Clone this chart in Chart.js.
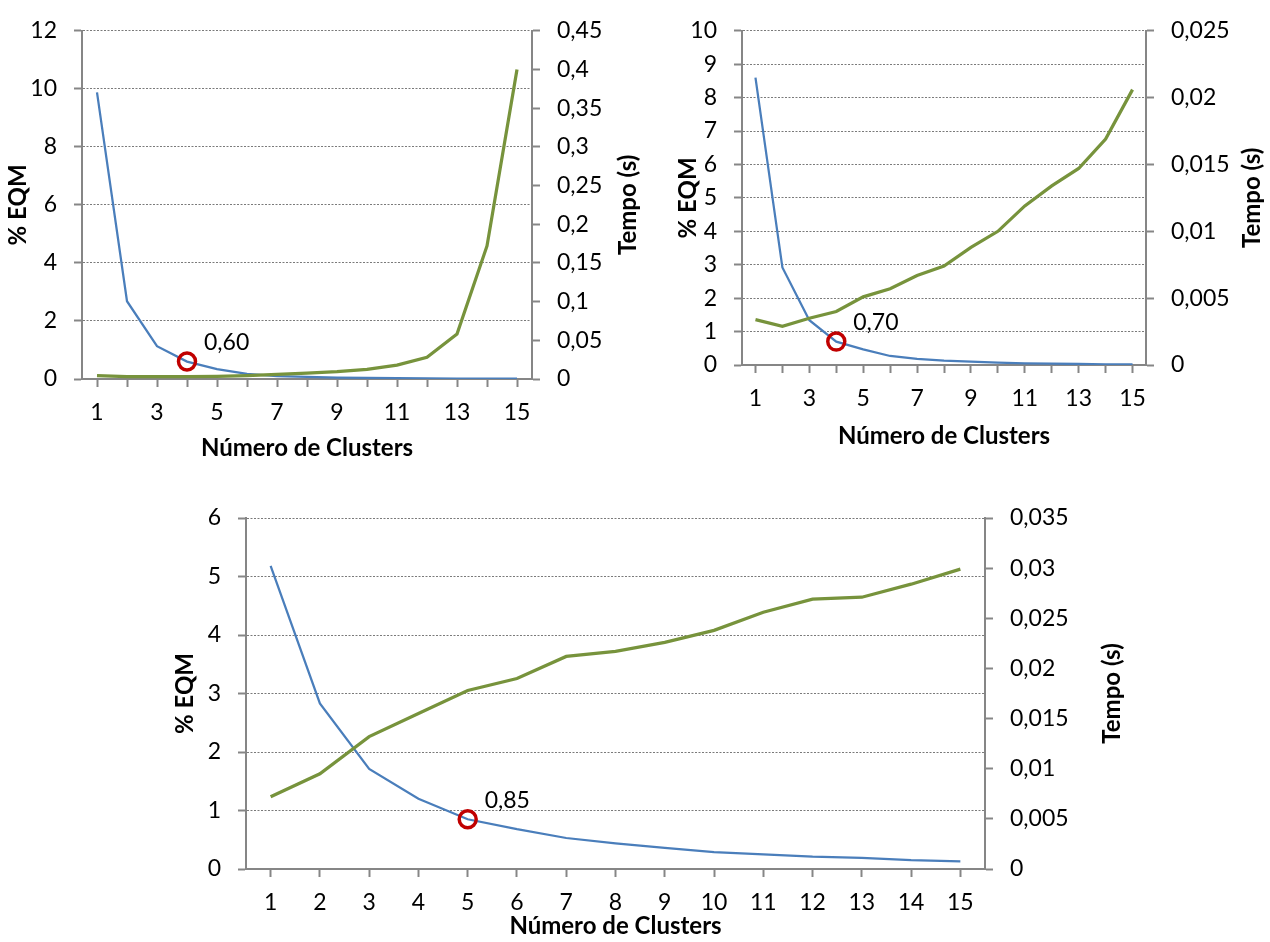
<!DOCTYPE html>
<html>
<head>
<meta charset="utf-8">
<script src="https://cdn.jsdelivr.net/npm/chart.js@4.4.1/dist/chart.umd.min.js"></script>
<style>
  body { margin: 0; background: #fff; width: 1270px; height: 942px; position: relative; overflow: hidden; }
  .box { position: absolute; }
</style>
</head>
<body>
<div class="box" style="left:0;top:0;width:640px;height:463px"><canvas id="chart1"></canvas></div>
<div class="box" style="left:640px;top:0;width:630px;height:451px"><canvas id="chart2"></canvas></div>
<div class="box" style="left:150px;top:470px;width:1000px;height:471px"><canvas id="chart3"></canvas></div>
<script>
// cluster counts on the x axis
const clusters = ['1', '2', '3', '4', '5', '6', '7', '8', '9', '10', '11', '12', '13', '14', '15'];

// first run
const eqm1 = [9.88, 2.68, 1.13, 0.60, 0.34, 0.18, 0.10, 0.07, 0.05, 0.04, 0.03, 0.02, 0.015, 0.01, 0.01];
const tempo1 = [0.0045, 0.003, 0.003, 0.003, 0.0035, 0.0045, 0.006, 0.0075, 0.0095, 0.0125, 0.018, 0.028, 0.058, 0.172, 0.40];
const mark1 = 3;

// second run
const eqm2 = [8.6, 2.92, 1.34, 0.70, 0.47, 0.27, 0.18, 0.13, 0.10, 0.07, 0.05, 0.04, 0.03, 0.02, 0.02];
const tempo2 = [0.0034, 0.0029, 0.0035, 0.0040, 0.0051, 0.0057, 0.0067, 0.0074, 0.0088, 0.0100, 0.0119, 0.0134, 0.0147, 0.0169, 0.0206];
const mark2 = 3;

// third run
const eqm3 = [5.18, 2.83, 1.71, 1.2, 0.85, 0.68, 0.53, 0.44, 0.36, 0.29, 0.25, 0.21, 0.19, 0.15, 0.13];
const tempo3 = [0.0072, 0.0095, 0.0132, 0.0155, 0.0178, 0.0190, 0.0212, 0.0217, 0.0226, 0.0238, 0.0256, 0.0269, 0.0271, 0.0284, 0.0299];
const mark3 = 4;

const BLUE = '#4A7EBB';
const GREEN = '#77933C';
const RED = '#C00000';
const AXIS = '#868686';
const FONT = 'Lato, "Open Sans", sans-serif';

Chart.defaults.font.family = FONT;
Chart.defaults.color = '#000';

const comma = v => String(Math.round(v * 10000) / 10000).replace('.', ',');

// value label next to the red circle, plus the two rotated y titles
const extras = {
    id: 'extras',
    afterDatasetsDraw(chart, args, o) {
        const ctx = chart.ctx;
        const pt = chart.getDatasetMeta(0).data[o.mark];
        const y = chart.scales.y;
        const midY = (y.top + y.bottom) / 2;
        ctx.save();
        ctx.fillStyle = '#000';
        ctx.textBaseline = 'middle';
        ctx.font = '23px ' + FONT;
        ctx.fillText(o.label, pt.x + 17, pt.y - 19);

        ctx.font = 'bold 24px ' + FONT;
        ctx.textAlign = 'center';
        ctx.save();
        ctx.translate(o.leftX, midY);
        ctx.rotate(-Math.PI / 2);
        ctx.fillText('% EQM', 0, 0);
        ctx.restore();
        ctx.translate(o.rightX, midY);
        ctx.rotate(-Math.PI / 2);
        ctx.fillText('Tempo (s)', 0, 0);
        ctx.restore();
    }
};

function buildChart(id, eqm, tempo, markIdx, s) {
    const markData = eqm.map((v, i) => i === markIdx ? v : null);
    return new Chart(document.getElementById(id), {
        type: 'line',
        data: {
            labels: clusters,
            datasets: [
                {
                    label: 'marca',
                    data: markData,
                    yAxisID: 'y',
                    showLine: false,
                    pointRadius: 8.5,
                    pointBorderWidth: 3.5,
                    pointBorderColor: RED,
                    pointBackgroundColor: 'rgba(0,0,0,0)',
                    order: 0
                },
                {
                    label: '% EQM',
                    data: eqm,
                    yAxisID: 'y',
                    borderColor: BLUE,
                    borderWidth: 2.25,
                    pointRadius: 0,
                    tension: 0,
                    order: 2
                },
                {
                    label: 'Tempo (s)',
                    data: tempo,
                    yAxisID: 'y1',
                    borderColor: GREEN,
                    borderWidth: 3.25,
                    pointRadius: 0,
                    tension: 0,
                    order: 1
                }
            ]
        },
        options: {
            responsive: true,
            maintainAspectRatio: false,
            animation: false,
            events: [],
            layout: { padding: { top: s.padTop, left: 0, right: 0, bottom: 0 } },
            plugins: {
                legend: { display: false },
                tooltip: { enabled: false },
                extras: { mark: markIdx, label: eqm[markIdx].toFixed(2).replace('.', ','), leftX: s.leftX, rightX: s.rightX }
            },
            scales: {
                x: {
                    offset: true,
                    afterFit: sc => { sc.height = s.xH; },
                    grid: { drawOnChartArea: false, tickLength: 8, tickWidth: 2, tickColor: AXIS },
                    border: { color: AXIS, width: 2 },
                    ticks: {
                        autoSkip: false,
                        maxRotation: 0,
                        minRotation: 0,
                        padding: 12,
                        font: { size: 23 },
                        callback: (v, i) => (s.oddOnly && i % 2 === 1) ? '' : clusters[i]
                    },
                    title: { display: true, text: 'Número de Clusters', font: { size: 24, weight: 'bold' }, padding: 0, color: '#000' }
                },
                y: {
                    position: 'left',
                    min: 0,
                    max: s.yMax,
                    afterFit: sc => { sc.width = s.leftW; },
                    grid: { color: '#7a7a7a', lineWidth: 1, tickLength: 8, tickWidth: 2, tickColor: AXIS },
                    border: { color: AXIS, width: 2, dash: [2, 1.5] },
                    ticks: { stepSize: s.yStep, padding: 17, font: { size: 23 }, callback: v => comma(v) }
                },
                y1: {
                    position: 'right',
                    min: 0,
                    max: s.tMax,
                    afterFit: sc => { sc.width = s.rightW; },
                    grid: { drawOnChartArea: false, tickLength: 8, tickWidth: 2, tickColor: AXIS },
                    border: { color: AXIS, width: 2 },
                    ticks: { stepSize: s.tStep, padding: 17, font: { size: 23 }, callback: v => comma(v) }
                }
            }
        },
        plugins: [extras]
    });
}

buildChart('chart1', eqm1, tempo1, mark1, {
    padTop: 20, leftW: 82, rightW: 108, xH: 84,
    yMax: 12, yStep: 2, tMax: 0.45, tStep: 0.05,
    oddOnly: true, leftX: 18, rightX: 628
});

buildChart('chart2', eqm2, tempo2, mark2, {
    padTop: 28, leftW: 102, rightW: 124, xH: 86,
    yMax: 10, yStep: 1, tMax: 0.025, tStep: 0.005,
    oddOnly: true, leftX: 48, rightX: 612
});

buildChart('chart3', eqm3, tempo3, mark3, {
    padTop: 48, leftW: 96, rightW: 165, xH: 72,
    yMax: 6, yStep: 1, tMax: 0.035, tStep: 0.005,
    oddOnly: false, leftX: 35, rightX: 962
});
</script>
</body>
</html>
